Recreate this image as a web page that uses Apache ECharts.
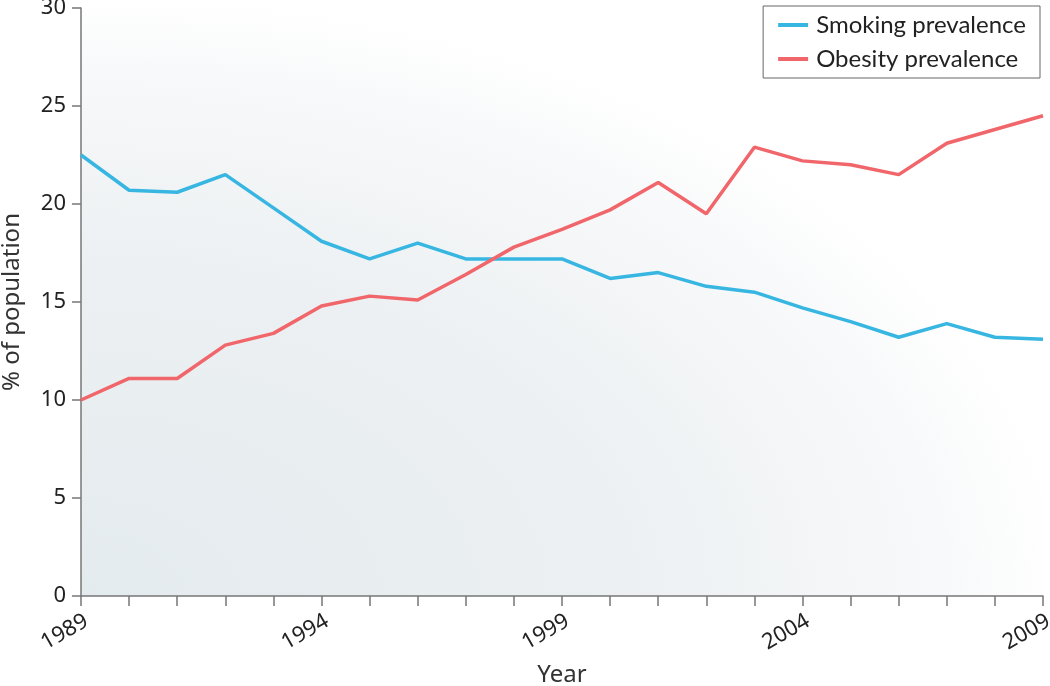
<!DOCTYPE html>
<html>
<head>
<meta charset="UTF-8">
<title>Smoking and obesity prevalence</title>
<script type="text/javascript" src="https://cdn.jsdelivr.net/npm/echarts@6/dist/echarts.min.js"></script>
<style>
  html, body { margin: 0; padding: 0; background: #fff; }
</style>
</head>
<body>

<div id="box" style="width:1050px;height:686px;"></div>

<script type="text/javascript">

// years on the x axis
var years = ['1989','1990','1991','1992','1993','1994','1995','1996','1997','1998','1999',
             '2000','2001','2002','2003','2004','2005','2006','2007','2008','2009'];

// % of population
var smoking = [22.5, 20.7, 20.6, 21.5, 19.8, 18.1, 17.2, 18.0, 17.2, 17.2, 17.2,
               16.2, 16.5, 15.8, 15.5, 14.7, 14.0, 13.2, 13.9, 13.2, 13.1];
var obesity = [10.0, 11.1, 11.1, 12.8, 13.4, 14.8, 15.3, 15.1, 16.4, 17.8, 18.7,
               19.7, 21.1, 19.5, 22.9, 22.2, 22.0, 21.5, 23.1, 23.8, 24.5];

var seriesNames = ['Smoking prevalence', 'Obesity prevalence'];

var mychart = echarts.init(document.getElementById('box'));

// plot box in pixels
var gLeft = 81, gTop = 8, gRight = 7, gBottom = 90;
var gW = 1050 - gLeft - gRight, gH = 686 - gTop - gBottom;

var option = {
  animation: false,
  textStyle: { fontFamily: 'Noto Sans' },
  grid: { left: gLeft, top: gTop, right: gRight, bottom: gBottom, outerBoundsMode: 'none' },
  // soft shaded background, darkest bottom-left
  graphic: [{
    type: 'rect',
    x: gLeft, y: gTop,
    scaleX: gW / gH,
    z: -10,
    silent: true,
    shape: { x: 0, y: 0, width: gH, height: gH },
    style: {
      fill: {
        type: 'radial', x: 0, y: 1, r: 1.02,
        colorStops: [
          { offset: 0, color: '#e4ebee' },
          { offset: 0.55, color: '#ecf0f2' },
          { offset: 0.88, color: '#f8f9fa' },
          { offset: 1, color: '#ffffff' }
        ]
      }
    }
  }],
  legend: {
    orient: 'vertical',
    right: 10, top: 6,
    padding: [7, 14, 7, 15],
    itemGap: 10,
    itemWidth: 30, itemHeight: 4,
    icon: 'rect',
    borderColor: '#666', borderWidth: 1,
    backgroundColor: '#fff',
    textStyle: { fontFamily: 'Lato', fontSize: 24, color: '#222', padding: [0, 0, 0, 3] },
    data: seriesNames
  },
  xAxis: {
    type: 'category',
    data: years,
    boundaryGap: false,
    name: 'Year',
    nameLocation: 'middle',
    nameGap: 67,
    nameTextStyle: { fontSize: 24, color: '#333' },
    axisLine: { lineStyle: { color: '#777', width: 1.5 } },
    axisTick: { interval: 0, length: 10, lineStyle: { color: '#777', width: 1.5 } },
    axisLabel: { interval: 4, rotate: 30, fontSize: 22, color: '#222', margin: 14, verticalAlign: 'top' },
    splitLine: { show: false }
  },
  yAxis: {
    type: 'value',
    min: 0, max: 30, interval: 5,
    name: '% of population',
    nameLocation: 'middle',
    nameGap: 57,
    nameRotate: 90,
    nameTextStyle: { fontSize: 24, color: '#333' },
    axisLine: { show: true, lineStyle: { color: '#777', width: 1.5 } },
    axisTick: { show: true, length: 9, lineStyle: { color: '#777', width: 1.5 } },
    axisLabel: { fontSize: 22, color: '#222', margin: 15 },
    splitLine: { show: false }
  },
  series: [{
    name: seriesNames[0],
    type: 'line',
    data: smoking,
    showSymbol: false,
    color: '#38b6e2',
    lineStyle: { width: 3.5, color: '#38b6e2' }
  }, {
    name: seriesNames[1],
    type: 'line',
    data: obesity,
    showSymbol: false,
    color: '#f0666a',
    lineStyle: { width: 3.5, color: '#f0666a' }
  }]
};

mychart.setOption(option);
</script>
</body>
</html>
